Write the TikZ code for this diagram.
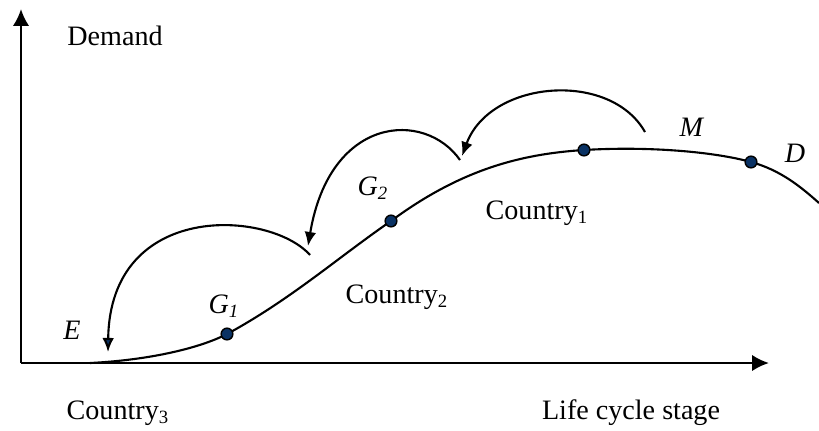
\documentclass[tikz,border=0pt]{standalone}
\usepackage{fontspec}
\setmainfont{Liberation Serif}
\usepackage{tikz}
\usetikzlibrary{arrows.meta,positioning}
\definecolor{dotblue}{RGB}{10,50,100}

\begin{document}
\begin{tikzpicture}[x=0.015cm,y=-0.015cm,line width=0.9pt,
  font=\fontsize{12}{14}\selectfont,
  stage/.style={circle,draw=black,fill=dotblue,line width=0.6pt,inner sep=0pt,minimum size=5pt},
  axis/.style={line width=1.1pt,-{Latex[length=7.2pt,width=7pt]}},
  shift arrow/.style={-{Latex[length=6pt,width=5pt]}}]
 \useasboundingbox (0,0) rectangle (819,430);
 % axes
 \coordinate (origin) at (21,363);
 \coordinate (ytop) at (21,9);
 \coordinate (xend) at (769,363);
 \draw[axis] (origin) -- (ytop);
 \draw[axis] (origin) -- (xend);
 \node (demand) at (115,36) {Demand};
 \node (stage) at (631,413) {Life cycle stage};
 \node (c3) at (118,413) {Country\textsubscript{3}};
 % life cycle curve
 \coordinate (start) at (90,363);
 \coordinate (g1) at (227,334);
 \coordinate (g2) at (391,221);
 \coordinate (m) at (584,150);
 \coordinate (d) at (751,162);
 \coordinate (exit) at (819,203);
 \draw (start) .. controls (150,360) and (200,348) .. (g1)
  .. controls (290,300) and (340,256) .. (g2)
  .. controls (460,170) and (520,154) .. (m)
  .. controls (650,146) and (715,152) .. (d)
  .. controls (780,170) and (800,186) .. (exit);
 \foreach \p in {g1,g2,m,d} \node[stage] (dot-\p) at (\p) {};
 % labels
 \node (lE) at (72,330) {\textit{E}};
 \node (lG1) at (224,306) {\textit{G\textsubscript{1}}};
 \node (lG2) at (373,188) {\textit{G\textsubscript{2}}};
 \node (lM) at (692,127) {\textit{M}};
 \node (lD) at (795,153) {\textit{D}};
 \node (c1) at (537,213) {Country\textsubscript{1}};
 \node (c2) at (397,297) {Country\textsubscript{2}};
 % shifts between countries
 \coordinate (a1s) at (310,255);
 \coordinate (a1e) at (108,352);
 \coordinate (a2s) at (460,160);
 \coordinate (a2e) at (308,246);
 \coordinate (a3s) at (645,132);
 \coordinate (a3e) at (462,156);
 \draw[-{Latex[length=6pt,width=5pt,fill=dotblue]}] (a1s) .. controls (270,210) and (110,200) .. (a1e);
 \draw[shift arrow] (a2s) .. controls (425,110) and (330,115) .. (a2e);
 \draw[shift arrow] (a3s) .. controls (610,70) and (490,80) .. (a3e);
\end{tikzpicture}
\end{document}
